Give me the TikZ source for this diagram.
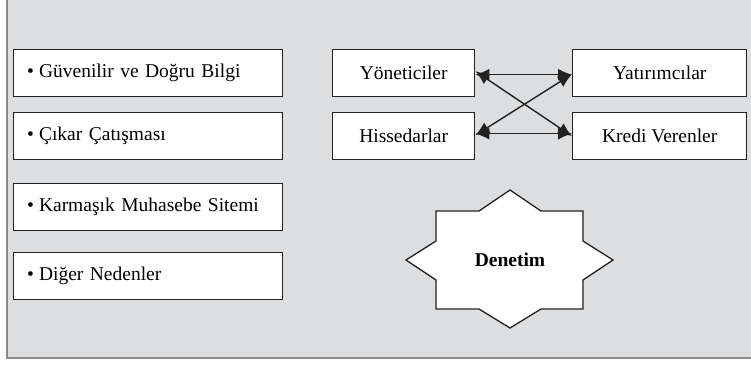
\documentclass[tikz,border=0pt]{standalone}
\usepackage{fontspec}
\setmainfont{Liberation Serif}
\usetikzlibrary{arrows.meta}
\definecolor{bg}{HTML}{DDDEE0}
\definecolor{ln}{HTML}{222222}
\definecolor{fr}{HTML}{8A8A8A}
\begin{document}
\begin{tikzpicture}[x=1pt,y=-1pt,
  box/.style={draw=ln,line width=1.4pt,fill=white},
  lbox/.style={box,minimum width=269pt,minimum height=47pt,anchor=north west,
     text width=262pt,align=left,inner sep=0pt,font=\fontsize{19.5}{22}\selectfont},
  rbox/.style={box,minimum height=47pt,anchor=north west,inner sep=0pt,
     font=\fontsize{19.5}{22}\selectfont},
  arr/.style={{Latex[length=14pt,width=12pt]}-{Latex[length=14pt,width=12pt]},line width=1.4pt,draw=ln}]
\useasboundingbox (0,0) rectangle (751,364);
\fill[bg] (7,0) rectangle (751,357);
\draw[fr,line width=2pt] (7,0) -- (7,357.5) -- (751,357.5);
% left boxes
\node[lbox] (g) at (13,49) {\hspace*{10pt}\textbullet\hspace{5pt}Güvenilir ve Doğru Bilgi\par\vspace{4pt}};
\node[lbox] (c) at (13,112) {\hspace*{10pt}\textbullet\hspace{5pt}Çıkar Çatışması\par\vspace{4pt}};
\node[lbox] (k) at (13,183) {\hspace*{10pt}\textbullet\hspace{5pt}Karmaşık Muhasebe Sitemi\par\vspace{4pt}};
\node[lbox] (d) at (13,252) {\hspace*{10pt}\textbullet\hspace{5pt}Diğer Nedenler\par\vspace{4pt}};
% right boxes
\node[rbox,minimum width=142pt] (y) at (332,49) {Yöneticiler};
\node[rbox,minimum width=142pt] (h) at (332,112) {Hissedarlar};
\node[rbox,minimum width=174pt] (t) at (572,49) {Yatırımcılar};
\node[rbox,minimum width=174pt] (v) at (572,112) {Kredi Verenler};
\draw[arr] ([yshift=-1.5pt]y.east) -- ([yshift=-1.5pt]t.west);
\draw[arr] ([yshift=2.5pt]h.east) -- ([yshift=2.5pt]v.west);
\draw[arr] ([yshift=2pt]y.east) -- (v.west);
\draw[arr] ([yshift=1pt]h.east) -- ([yshift=-1pt]t.west);
% star
\draw[ln,line width=1.3pt,fill=white,line join=miter]
  (510,190) -- (541,211) -- (583,211) -- (583,241) -- (613,260) -- (583,280) -- (583,309)
  -- (541,309) -- (510,328) -- (479,309) -- (436,309) -- (436,280) -- (406,260)
  -- (436,241) -- (436,211) -- (479,211) -- cycle;
\node[font=\bfseries\fontsize{19.5}{22}\selectfont] (den) at (510,260) {Denetim};
\end{tikzpicture}
\end{document}
